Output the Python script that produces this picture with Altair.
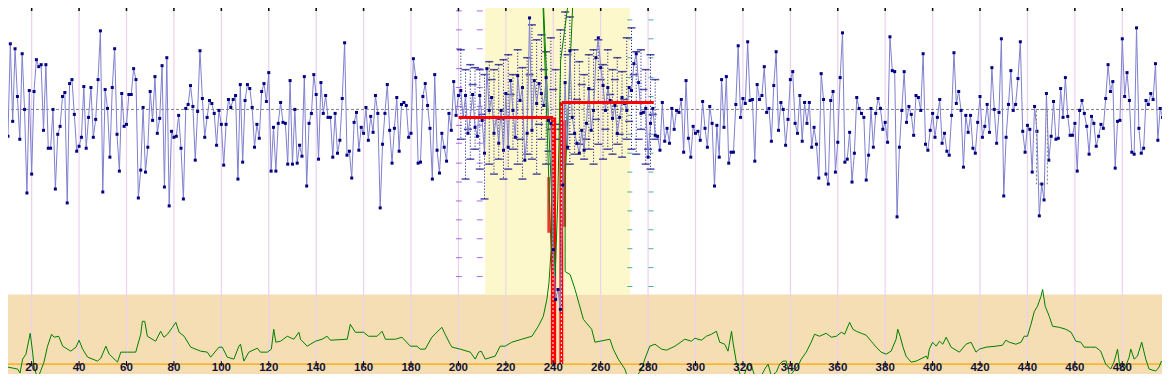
import altair as alt
import pandas as pd

# ---------------- data ----------------
X_DOM = [7.07, 499.7]
Y_DOM = [-273, 109]

tick_vals = [20, 40, 60, 80, 100, 120, 140, 160, 180, 200, 220, 240,
             260, 280, 300, 320, 340, 360, 380, 400, 420, 440, 460, 480]

blue_start = 7
blue_a = [-50, -24, -19, -27, 66, -12, 61, 13, -30, 56,
          0, -84, 19, -65, 18, 50, 43, 45, -21, 45,
          -39, -39, 0, -80, -25, -17, 13, 17, -94, 26,
          30, -5, -42, -37, -28, 23, -39, -8, 22, -28,
          -10, 30, 79, -83, 20, 1, -48, 22, 61, -25,
          -62, 16, -17, -15, 15, 15, 41, 30, -89, -61,
          2, -63, -38, 18, -11, 33, -24, -9, 44, -78,
          52, -97, -22, -28, -27, -6, -39, -90, 1, 5,
          24, 3, -51, -2, 59, 11, -28, -8, 9, 6,
          -4, -36, -1, -15, -56, -15, 10, 2, 10, 14,
          -70, 25, -53, 9, 25, 21, 2, -38, -15, -29,
          18, 26, 8, 37, -62, -18, -62, -14, 7, -13,
          -14, -55, 29, -55, 0, -54, -36]
blue_b = [-47, 33, -77, -14, -4, 35, 15, -50, 27, -4,
          14, -8, -8, -48, -4, -44, -31, 11, 67, -46,
          -42, -69, -13, -3, -41, -18, -24, 2, -31, -7,
          -23, 14, -4, -99, -35, -4, 25, -21, -54, -19,
          12, -42, 5, 7, 4, -28, -24, 51, 32, -54,
          -53, 13, 26, 4, -19, -70, 35, -41, -64, -24,
          -38, -52, -4]
blue_c = [-21, 28, -6, 14, 19, -8, 14, -24, -8, 15,
          -18, -27, 14, -11, -44, 41, -1, 12, -24, -8,
          -34, -1, -41, 16, -38, 29, -1, -28, 34, 9,
          22, -51, -24, 92, -21, 29, 6, 26, 16, 4,
          32, -11, -14, -141, -191, -181, -201, -76, 27, -38,
          59, -8, -24, -34, -44, -21, -41, -14, 21, -21,
          -1, 52, 72, 42, 24, -1, 22, 9, -9, 4,
          -24, -8, 12, 6, -1, 22, 19, 46, 56, 27,
          -4, -3, 1, -48, -14, 1, -26]
blue_d = [-27, -41, 7, -32, -19, -34, 1, -20, -1, -3,
          10, -43, 29, -29, -48, -17, -24, -22, -31, 8,
          -19, -38, 3, -14, -77, -16, -48, 30, -18, 33,
          -54, -43, -43, 5, 64, -8, 11, 6, 68]
blue_e = [9, 10, -52, 25, 10, 14, 43, -3, 1, -32,
          24, 58, -21, 7, 0, -36, -10, 30, 38, -14,
          -24, 14, -32, 7, -14, 7, -38, -18, -35, -69,
          36, 10, -65, -75, 9, 18, -63, -33, 32, 77,
          -53, -50, -23, -73, -44, 12, 1, -4, -8, -71,
          -46, 1, -38, -4, 11, 1, -20, -13, -33, 73,
          39, 38]
blue_f = [-108, -38, -1, 38, -13, 3, -5, -26, 14, 12,
          -1, 56, -35, -41, -21, -4, -28, -8, 10, -34,
          -24, -42, -46, -6, 57, 6, 18, -1, -58, -6,
          -23, -6, -39, -44, -13, 13, -28, -17, 5, -23,
          42, 0, -34, -3, 71, -87, -28, 5, 39, -1,
          5, 31, 68, -22, -43, -16, -20, -63, 3, -22,
          -107, -75, -91, 16]
blue_g = [-51, -27, 8, -30, -29, 21, -8, 32, -7, -26,
          -26, -14, -62, -1, 9, -4, -17, -45, -7, -14,
          -37, -27, -15, -19, 11, 45, 18, 28, -59, -12,
          -11, 71, 13, 37, 9, -43, -45, 82, -19, -44,
          -39, 9, 5, 16, 10, 46, -31, 1, -8, -9,
          0]

# green trace, in drawing order (it doubles back near 240)
green_x = [7.1, 8.2, 9.9, 14.1, 15.1, 16.2, 17.6, 19.4, 20.4, 21.0, 22.5, 25.2, 26.7, 28.4, 29.5,
           31.4, 33.1, 36.5, 38.7, 40.0, 41.5, 43.6, 47.8, 49.2, 51.3, 52.7, 56.2, 57.6, 60.4, 63.9,
           66.0, 66.7, 67.7, 68.8, 72.3, 74.4, 75.8, 77.3, 79.4, 80.8, 82.2, 84.3, 87.1, 91.3, 94.1,
           95.5, 99.0, 100.4, 102.5, 105.3, 107.4, 108.1, 109.5, 111.6, 115.2, 116.5, 119.4, 121.1,
           122.1, 123.0, 125.0, 127.8, 130.6, 132.7, 133.4, 136.2, 139.7, 142.5, 144.6, 146.0, 153.1,
           154.4, 156.5, 160.0, 162.1, 165.7, 167.8, 169.2, 173.4, 176.2, 179.7, 182.5, 183.9, 186.0,
           188.8, 193.0, 194.4, 196.5, 197.3, 200.8, 205.0, 207.1, 208.5, 209.6, 211.3, 215.5, 217.6,
           219.7, 222.5, 226.7, 231.0, 233.7, 235.8, 237.3, 238.2, 239.1, 234.9, 240.8, 241.9, 243.1,
           249.2, 245.0, 245.0, 247.1, 249.2, 252.7, 256.2, 257.6, 259.7, 263.9, 265.3, 267.4, 270.2,
           271.6, 274.4, 277.3, 278.6, 280.7, 282.9, 285.7, 287.8, 291.3, 295.5, 298.3, 299.7, 302.5,
           304.6, 306.7, 308.8, 310.2, 312.3, 313.7, 315.2, 315.8, 317.2, 319.4, 320.7, 322.1, 323.6,
           325.0, 327.1, 329.2, 330.6, 332.0, 334.1, 335.5, 336.9, 338.3, 339.7, 341.1, 343.2, 344.6,
           346.7, 348.8, 350.2, 352.3, 355.1, 357.3, 359.4, 361.5, 362.9, 365.0, 366.4, 367.8, 369.9,
           372.0, 374.1, 376.2, 378.3, 380.4, 382.5, 384.6, 385.3, 386.3, 387.4, 388.8, 390.9, 393.1,
           397.3, 397.9, 398.6, 400.0, 401.5, 402.9, 404.3, 405.7, 407.8, 411.3, 414.1, 416.2, 418.3,
           419.7, 422.5, 426.7, 429.5, 430.9, 432.3, 435.1, 437.3, 438.6, 440.0, 441.5, 442.9, 444.2,
           445.7, 446.4, 447.5, 449.2, 450.6, 453.4, 456.2, 458.4, 460.4, 462.5, 463.9, 466.7, 468.8,
           470.9, 473.0, 475.1, 476.5, 478.0, 478.9, 480.7, 482.9, 483.6, 485.0, 486.4, 488.2, 489.9,
           491.3, 494.1, 495.5, 496.5, 497.6]
green_y = [-237, -238, -259, -261, -265, -251, -246, -225, -244, -258, -271, -254, -238, -226, -229,
           -228, -238, -243, -239, -232, -241, -249, -253, -250, -238, -246, -254, -244, -244, -244,
           -226, -213, -213, -228, -233, -223, -229, -226, -219, -214, -224, -228, -239, -243, -244,
           -249, -239, -239, -249, -251, -238, -236, -253, -244, -240, -244, -244, -241,
           -221, -234, -233, -228, -231, -224, -231, -238, -233, -231, -228, -232, -231,
           -216, -224, -224, -228, -228, -223, -231, -231, -229, -238, -238, -241, -241,
           -229, -219, -226, -236, -239, -241, -244, -251, -244, -243, -251, -248, -238,
           -238, -234, -231, -228, -218, -208, -191, -174, -141, 160, -168, -91, 49,
           160, -71, -163, -166, -181, -211, -221, -234, -233, -231, -241, -251, -261,
           -271, -271, -261, -251, -238, -236, -241, -242, -238, -231, -233, -230, -232,
           -228, -226, -223, -234, -236, -243, -223, -234, -254, -271, -266, -256, -258,
           -268, -271, -261, -256, -268, -264, -256, -253, -253, -268, -264, -258, -251,
           -244, -234, -226, -228, -225, -229, -228, -224, -226, -214, -221, -223, -225,
           -227, -233, -239, -244, -246, -243, -231, -221, -228, -238, -248, -254, -253,
           -248, -251, -241, -234, -238, -233, -236, -229, -239, -244, -236, -234, -244,
           -241, -239, -238, -237, -232, -234, -236, -234, -228, -228, -216, -203, -198,
           -188, -181, -198, -208, -218, -219, -221, -224, -233, -234, -239, -239, -239,
           -243, -256, -261, -254, -241, -258, -263, -249, -241, -251, -248, -234, -251,
           -261, -263, -259, -253, -256]

# replicate spread in the highlighted region (top / bottom of each dotted column)
cloud_x = [201, 203, 205, 207, 209, 211, 213, 215, 217, 219, 221, 223, 225, 227, 229, 231, 233,
           235, 237, 239, 241, 243, 245, 247, 249, 251, 253, 255, 257, 259, 261, 263, 265, 267,
           269, 271, 273, 275, 277, 279, 281, 283]
cloud_top = [60, 40, 45, 42, 40, 35, 48, 40, 45, 50, 55, 35, 60, 42, 52, 85, 70,
             75, 58, 72, 40, 80, 98, 93, 60, 48, 35, 55, 60, 70, 45, 60, 40, 52,
             38, 72, 82, 58, 60, 40, 55, 30]
cloud_bot = [-30, -70, -50, -40, -60, -90, -55, -65, -50, -70, -60, -40, -55, -70, -45, -50, -65,
             -30, -55, -20, -15, -20, -40, -55, -45, -35, -50, -40, -55, -35, -50, -40, -45, -35,
             -48, -30, -40, -45, -20, -55, -60, -30]
mid_x = [204, 206, 210, 214, 218, 222, 226, 230, 234, 236, 238, 240, 242, 244, 246, 248, 250,
         252, 254, 256, 258, 260, 262, 264, 266, 268, 270, 272, 274, 276, 278, 280, 282]
mid_y = [-20, 25, -5, 30, -10, 15, -30, 35, -15, 40, -42, 20, -30, -15, 55, -25, 10,
         25, -30, 20, -10, 30, -20, 15, 30, -25, 10, -12, 35, -30, 20, -40, -5]

purple_x = [200.2, 209.0]
purple_levels = [99, 80, 61, 41, 22, 3, -16, -34, -54, -73, -92, -111, -130, -149, -168]
teal_x = [272.3, 281.2]
teal_levels = [90, 71, 52, 32, 13, -6, -25, -44, -63, -83, -102, -121, -140, -159, -178]

yellow_band = [211.3, 272.4, -186, 109]
wheat_band = [7.07, 499.7, -273, -186]
orange_level = -256
zero_level = 0
label_level = -260

red_step_x0 = [200.1, 243.6]
red_step_x1 = [239.9, 282.4]
red_step_y = [-8, 7]
red_bar_x0 = [239.0, 242.6]
red_bar_x1 = [241.2, 244.2]
red_bar_y0 = [-256, -256]
red_bar_y1 = [-8, 7]
red_thin_x0 = [237.5, 244.2]
red_thin_x1 = [238.6, 245.4]
red_thin_y0 = [-124, -118]
red_thin_y1 = [-68, -11]
white_x = [239.9, 243.4]
white_y0 = [-256, -256]
white_y1 = [-10, 5]

box_x0, box_x1, box_y0, box_y1 = [443.8], [448.4], [-75], [0]

# ---------------- tables ----------------
blue_all = blue_a + blue_b + blue_c + blue_d + blue_e + blue_f + blue_g
blue_df = pd.DataFrame({"x": [blue_start + k for k in range(len(blue_all))], "y": blue_all})
green_df = pd.DataFrame({"x": green_x, "y": green_y, "k": list(range(len(green_x)))})
ticks_df = pd.DataFrame({"x": tick_vals,
                         "t0": [Y_DOM[1]] * len(tick_vals),
                         "t1": [Y_DOM[1] - 10] * len(tick_vals),
                         "b0": [orange_level + 3] * len(tick_vals),
                         "b1": [orange_level - 2] * len(tick_vals),
                         "bo": [orange_level] * len(tick_vals),
                         "ly": [label_level] * len(tick_vals),
                         "lab": [str(v) for v in tick_vals]})
bands_df = pd.DataFrame({"x0": [wheat_band[0], yellow_band[0]], "x1": [wheat_band[1], yellow_band[1]],
                         "y0": [wheat_band[2], yellow_band[2]], "y1": [wheat_band[3], yellow_band[3]],
                         "c": ["#f5deb3", "#fdf8cc"]})
cloud_df = pd.DataFrame({"x": cloud_x, "top": cloud_top, "bot": cloud_bot})
cloud_ticks = pd.DataFrame({"x": cloud_x + cloud_x + mid_x, "y": cloud_top + cloud_bot + mid_y})
pur_df = pd.DataFrame([{"x": px, "y": lv} for px in purple_x for lv in purple_levels])
teal_df = pd.DataFrame([{"x": tx, "y": lv} for tx in teal_x for lv in teal_levels])
lines_df = pd.DataFrame({"y": [zero_level, orange_level]})
red_step_df = pd.DataFrame({"x0": red_step_x0, "x1": red_step_x1, "y": red_step_y})
red_bar_df = pd.DataFrame({"x0": red_bar_x0, "x1": red_bar_x1, "y0": red_bar_y0, "y1": red_bar_y1})
red_thin_df = pd.DataFrame({"x0": red_thin_x0, "x1": red_thin_x1, "y0": red_thin_y0, "y1": red_thin_y1})
white_df = pd.DataFrame({"x": white_x, "y0": white_y0, "y1": white_y1})
box_df = pd.DataFrame({"x0": box_x0, "x1": box_x1, "y0": box_y0, "y1": box_y1})

xs = alt.Scale(domain=X_DOM, nice=False, zero=False)
ys = alt.Scale(domain=Y_DOM, nice=False, zero=False)


def X(f="x"):
    return alt.X(f"{f}:Q", scale=xs, axis=None)


def Y(f="y"):
    return alt.Y(f"{f}:Q", scale=ys, axis=None)


bands = alt.Chart(bands_df).mark_rect().encode(
    x=X("x0"), x2="x1", y=Y("y0"), y2="y1", color=alt.Color("c:N", scale=None))
grid = alt.Chart(ticks_df).mark_rule(color="#ecd2ec", strokeWidth=1.2).encode(x=X())
zero_line = alt.Chart(lines_df.iloc[[0]]).mark_rule(color="#808080", strokeDash=[3, 2], strokeWidth=1).encode(y=Y())
orange_line = alt.Chart(lines_df.iloc[[1]]).mark_rule(color="#ffa500", strokeWidth=1.3).encode(y=Y())
top_ticks = alt.Chart(ticks_df).mark_rule(color="black", strokeWidth=1.5).encode(x=X(), y=Y("t0"), y2="t1")
bot_ticks = alt.Chart(ticks_df).mark_rule(color="black", strokeWidth=1).encode(x=X(), y=Y("b0"), y2="b1")
bot_caps = alt.Chart(ticks_df).mark_tick(color="black", orient="horizontal", size=5, thickness=1).encode(x=X(), y=Y("bo"))
labels = alt.Chart(ticks_df).mark_text(font="Liberation Sans", fontSize=11.5, fontWeight="bold",
                                       color="#141432", baseline="middle").encode(x=X(), y=Y("ly"), text="lab:N")
purple = alt.Chart(pur_df).mark_tick(color="#8a2be2", orient="horizontal", size=6, thickness=1).encode(x=X(), y=Y())
teal = alt.Chart(teal_df).mark_tick(color="#008b8b", orient="horizontal", size=5, thickness=1).encode(x=X(), y=Y())
cloud_rules = alt.Chart(cloud_df).mark_rule(color="#000080", strokeDash=[1, 2], strokeWidth=1).encode(
    x=X(), y=Y("top"), y2="bot")
cloud_dash = alt.Chart(cloud_ticks).mark_tick(color="#000080", orient="horizontal", size=8, thickness=1.5).encode(
    x=X(), y=Y())
red_thin = alt.Chart(red_thin_df).mark_rect(color="#ff3030").encode(x=X("x0"), x2="x1", y=Y("y0"), y2="y1")
red_bars = alt.Chart(red_bar_df).mark_rect(color="#ff0000").encode(x=X("x0"), x2="x1", y=Y("y0"), y2="y1")
white_dots = alt.Chart(white_df).mark_rule(color="white", strokeDash=[2, 2], strokeWidth=1).encode(
    x=X(), y=Y("y0"), y2="y1")
green = alt.Chart(green_df).mark_line(color="#008000", strokeWidth=1, clip=True).encode(
    x=X(), y=Y(), order=alt.Order("k:Q"))
blue_line = alt.Chart(blue_df).mark_line(color="#7f7fd0", strokeWidth=1, clip=True).encode(x=X(), y=Y())
blue_pts = alt.Chart(blue_df).mark_square(color="#000080", size=9, opacity=1, clip=True).encode(x=X(), y=Y())
red_step = alt.Chart(red_step_df).mark_rule(color="#ff0000", strokeWidth=3).encode(x=X("x0"), x2="x1", y=Y())
box = alt.Chart(box_df).mark_rect(fill=None, stroke="#808080", strokeDash=[2, 2], strokeWidth=1).encode(
    x=X("x0"), x2="x1", y=Y("y0"), y2="y1")

chart = alt.layer(
    bands, grid, zero_line, orange_line, purple, teal, cloud_rules, cloud_dash,
    red_thin, red_bars, white_dots, green, blue_line, blue_pts, red_step, box,
    top_ticks, bot_ticks, bot_caps, labels
).properties(
    width=1154, height=366,
    autosize=alt.AutoSizeParams(type="fit", contains="padding"),
    padding={"left": -8, "top": -8, "right": -8, "bottom": -8},
).configure_view(stroke="black", strokeWidth=1)

chart.save("out.html", embed_options={"renderer": "svg", "actions": False})
